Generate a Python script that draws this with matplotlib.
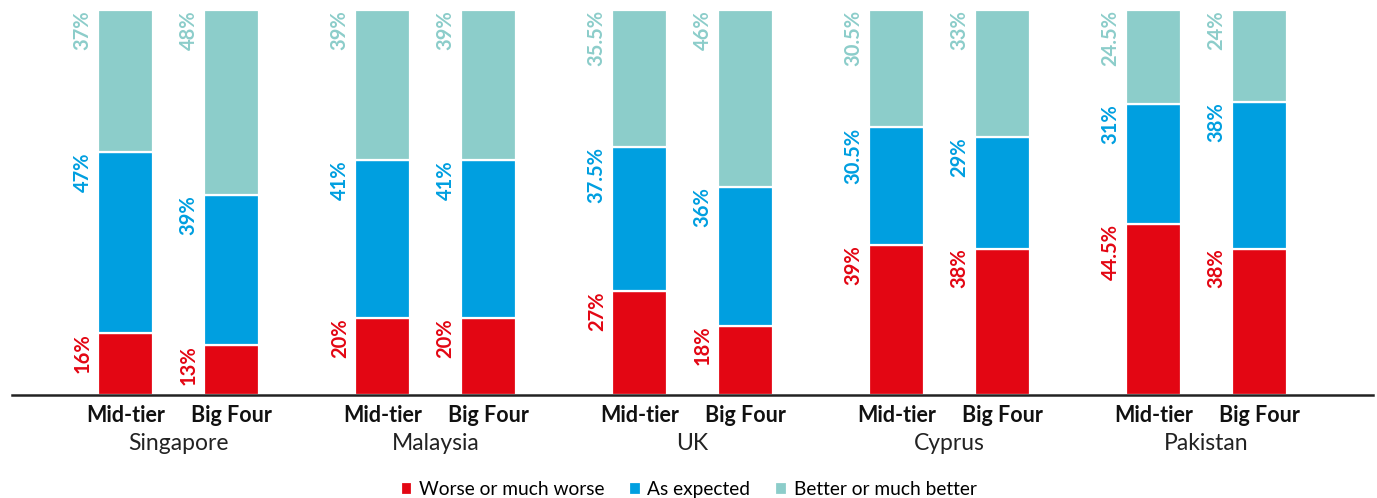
import matplotlib.pyplot as plt
import numpy as np

countries = ["Singapore", "Malaysia", "UK", "Cyprus", "Pakistan"]
firm_types = ["Mid-tier", "Big Four"]
series_names = ["Worse or much worse", "As expected", "Better or much better"]

# values per country: [mid-tier, big four]
worse = [[16, 13], [20, 20], [27, 18], [39, 38], [44.5, 38]]
expected = [[47, 39], [41, 41], [37.5, 36], [30.5, 29], [31, 38]]
better = [[37, 48], [39, 39], [35.5, 46], [30.5, 33], [24.5, 24]]

colors = ['#E30613', '#009FE0', '#8CCDCA']

plt.rcParams['font.family'] = ['Lato', 'DejaVu Sans']

fig = plt.figure(figsize=(13.77, 4.98), dpi=100)
ax = fig.add_axes([12 / 1377, 103 / 498, 1361 / 1377, 385 / 498])

offset = 0.206
width = 0.212
series = [worse, expected, better]

for i, country in enumerate(countries):
    for j, ftype in enumerate(firm_types):
        x = i + (j - 0.5) * 2 * offset
        bottom = 0
        for k, data in enumerate(series):
            v = data[i][j]
            ax.bar(x, v, width, bottom=bottom, color=colors[k],
                   edgecolor='white', linewidth=1.6,
                   label=series_names[k] if (i == 0 and j == 0) else None)
            ax.annotate(f"{v:g}%", (x - width / 2, bottom + v),
                        xytext=(-4, 0), textcoords='offset points',
                        rotation=90, rotation_mode='anchor',
                        ha='right', va='bottom', color=colors[k],
                        fontsize=14.5, fontweight='bold')
            bottom += v
        ax.text(x, -5.2, ftype, ha='center', va='center', fontsize=15.5,
                fontweight='bold', color='#111111')
    ax.text(i, -12.6, country, ha='center', va='center', fontsize=16.5,
            color='#222222')

ax.set_xlim(-0.648, 4.648)
ax.set_ylim(0, 100)
ax.set_xticks([])
ax.set_yticks([])
for side in ['top', 'right', 'left']:
    ax.spines[side].set_visible(False)
ax.spines['bottom'].set_linewidth(1.8)
ax.spines['bottom'].set_color('#222222')

fig.legend(loc='lower center', bbox_to_anchor=(0.5, -0.035), ncol=3,
           frameon=False, fontsize=13.8, handlelength=0.6, handleheight=0.6,
           handletextpad=0.35, columnspacing=1.3)

fig.savefig('out.png', dpi=100)
